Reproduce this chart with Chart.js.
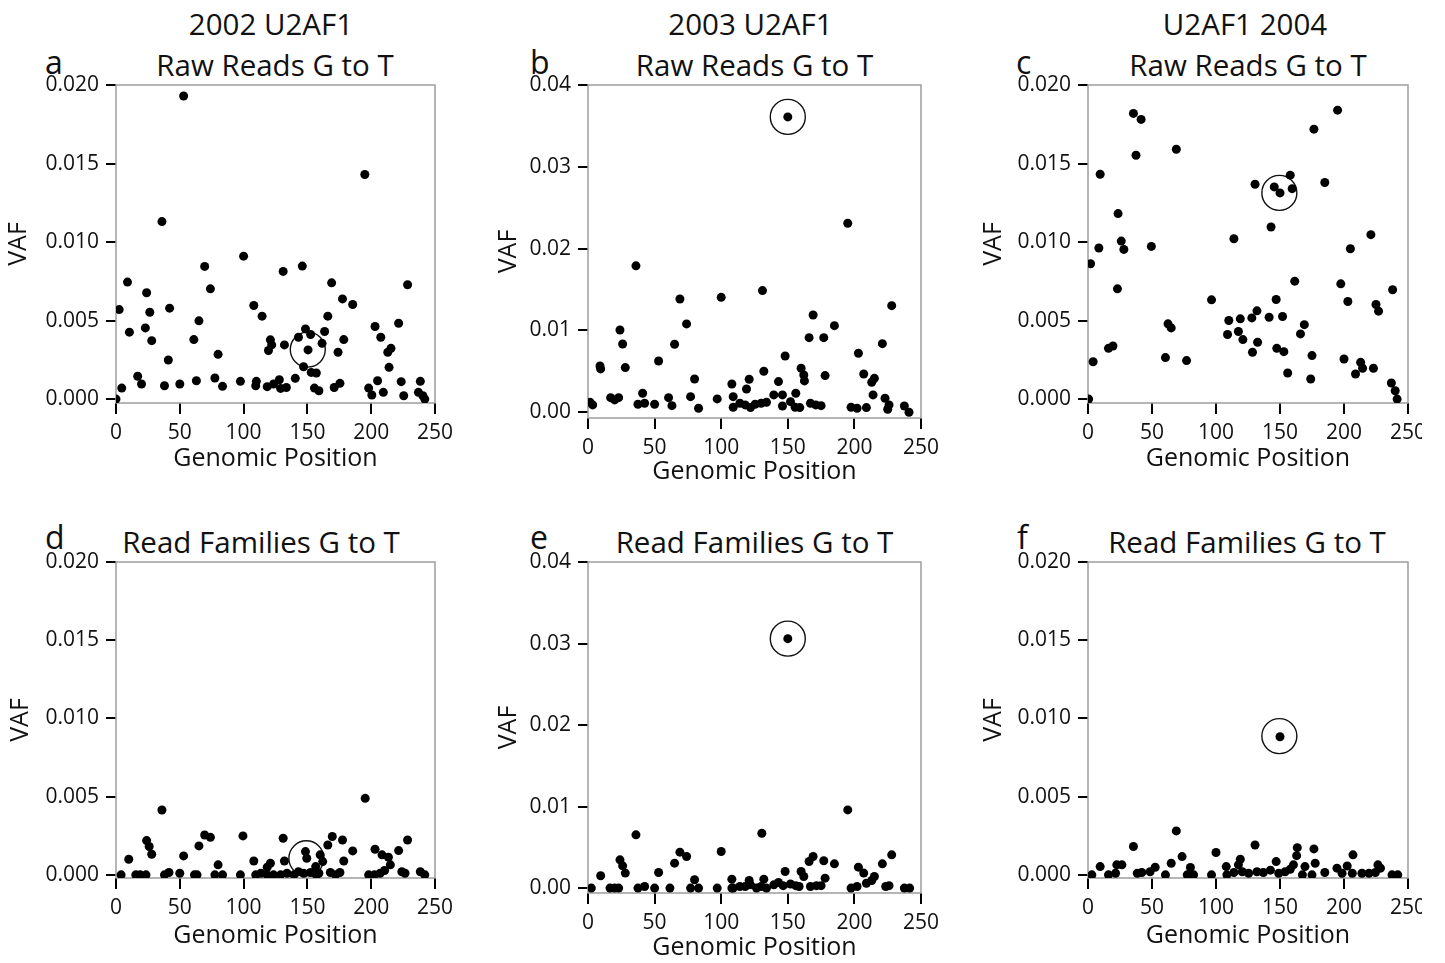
<!DOCTYPE html>
<html>
<head>
<meta charset="utf-8">
<script src="https://cdn.jsdelivr.net/npm/chart.js@4.4.1/dist/chart.umd.min.js"></script>
<style>
  body { margin: 0; background: #fff; width: 1445px; height: 963px; position: relative; overflow: hidden;
         font-family: 'Open Sans', sans-serif; color: #111; }
  canvas { position: absolute; }
  .t { position: absolute; text-align: center; font-size: 29.5px; line-height: 29px; white-space: nowrap; }
  .l { position: absolute; font-size: 32px; line-height: 32px; }
</style>
</head>
<body>
<div class="t" style="left:111px;width:320px;top:9px">2002 U2AF1</div>
<div class="t" style="left:115px;width:320px;top:50px">Raw Reads G to T</div>
<div class="t" style="left:584px;width:333px;top:9px">2003 U2AF1</div>
<div class="t" style="left:588px;width:333px;top:50px">Raw Reads G to T</div>
<div class="t" style="left:1085px;width:320px;top:9px">U2AF1 2004</div>
<div class="t" style="left:1088px;width:320px;top:50px">Raw Reads G to T</div>
<div class="t" style="left:101px;width:320px;top:527px">Read Families G to T</div>
<div class="t" style="left:588px;width:333px;top:527px">Read Families G to T</div>
<div class="t" style="left:1087px;width:320px;top:527px">Read Families G to T</div>
<div class="l" style="left:45px;top:46px">a</div>
<div class="l" style="left:530px;top:46px">b</div>
<div class="l" style="left:1016px;top:46px">c</div>
<div class="l" style="left:45px;top:521px">d</div>
<div class="l" style="left:530px;top:521px">e</div>
<div class="l" style="left:1017px;top:521px">f</div>
<script>
// tick values
const xTicks = [0, 50, 100, 150, 200, 250];
const yTicksSmall = [0, 0.005, 0.01, 0.015, 0.02];
const yTicksLarge = [0, 0.01, 0.02, 0.03, 0.04];

// [genomic position, VAF]
const rawA = [[53,0.0193],[195,0.0143],[36,0.0113],[100,0.0091],[69.5,0.00845],[146,0.00847],[131,0.00813],[9,0.00745],[169,0.0074],[228.5,0.00728],[24,0.00677],[74,0.00702],[177.5,0.00638],[185.5,0.00602],[2.5,0.0057],[26.5,0.00553],[42,0.00579],[108,0.00596],[114.5,0.00528],[166,0.00528],[65,0.00498],[10.5,0.00426],[23,0.00453],[28,0.00372],[61,0.00379],[203,0.00462],[221.5,0.00483],[207.5,0.00394],[148.5,0.00447],[152.5,0.00411],[143,0.00394],[163.5,0.0043],[121,0.00377],[122,0.00345],[132,0.00345],[161.5,0.00355],[178.5,0.00379],[119.5,0.00309],[150.5,0.00313],[174,0.00298],[215.5,0.00323],[213,0.00298],[80,0.00285],[41,0.00249],[214,0.00202],[147,0.00206],[153,0.0017],[157,0.00166],[17,0.00145],[20,0.00096],[4.5,0.0007],[38,0.00085],[50,0.00096],[63,0.00117],[77.5,0.00134],[83.5,0.00081],[97.5,0.00113],[110,0.00113],[109.5,0.00085],[118.5,0.00079],[123.5,0.00096],[128,0.00123],[129,0.00068],[133.5,0.00074],[140.5,0.00132],[155.5,0.0007],[159,0.00053],[171,0.00074],[175.5,0.001],[198,0.0007],[200.5,0.00026],[205,0.00117],[209.5,0.00043],[223.5,0.00111],[225.5,0.00021],[238.5,0.00113],[237,0.00043],[240.5,0.00021],[242,0],[0,0]];
const rawB = [[150,0.0361],[195,0.0231],[36,0.0179],[100,0.01405],[131,0.01487],[69,0.01385],[74,0.0108],[228,0.01303],[169,0.01189],[185,0.01059],[166,0.00912],[177,0.00912],[24,0.01006],[26,0.00835],[65,0.00831],[221,0.00839],[9,0.00566],[9.5,0.0053],[28,0.00546],[53,0.00627],[148,0.00688],[203,0.00721],[132,0.00501],[160,0.00538],[162,0.00456],[162.5,0.00383],[178,0.00448],[207,0.00468],[215,0.00415],[213,0.00367],[80,0.00407],[108,0.00346],[121,0.00403],[119,0.00285],[143,0.00375],[214,0.00212],[156,0.00232],[139.5,0.00212],[146,0.00212],[41,0.00232],[17,0.00179],[20,0.00151],[23,0.00179],[3.5,0.0009],[1.5,0.00122],[37.5,0.00098],[42.5,0.0011],[50,0.00098],[60.5,0.00179],[63,0.00081],[77,0.00191],[83,0.00049],[97,0.00163],[109,0.00191],[109,0.00061],[114,0.0011],[118,0.0009],[122,0.00057],[125.5,0.00098],[130,0.0011],[134,0.00122],[146,0.00077],[152,0.0013],[155.5,0.00061],[159,0.00057],[167,0.0011],[171,0.0009],[175,0.00081],[197.5,0.00061],[202,0.00049],[209,0.00057],[223,0.00171],[226,0.0009],[225,0.00037],[237.5,0.00077],[241,0]];
const rawC = [[35.5,0.01819],[41.5,0.01781],[195,0.0184],[176.5,0.01719],[37.5,0.01553],[69,0.01591],[9.5,0.01432],[158,0.01426],[130.5,0.01368],[145.5,0.01351],[150,0.01313],[159.5,0.0134],[185,0.01379],[23.5,0.01181],[143,0.01096],[221,0.01047],[114,0.01021],[26,0.01006],[28,0.00953],[8.5,0.00962],[49.5,0.00972],[205,0.00957],[2,0.00862],[23,0.00702],[161.5,0.00751],[197.5,0.00734],[238,0.00696],[203,0.00621],[225,0.00602],[227,0.0056],[96.5,0.00632],[147,0.00634],[132,0.00562],[128,0.00517],[141.5,0.00521],[152,0.00526],[110,0.005],[119,0.00511],[169,0.00474],[62.5,0.00479],[65,0.00453],[109,0.00411],[117.5,0.0043],[121,0.00379],[132.5,0.00362],[166,0.00415],[128.5,0.00298],[147.5,0.00323],[153,0.00302],[175,0.00277],[16,0.00323],[19.5,0.00338],[4,0.00238],[60.5,0.00264],[77,0.00245],[156,0.00166],[174,0.00128],[200,0.00255],[213,0.00234],[214.5,0.00196],[209,0.0016],[223,0.00196],[237,0.00102],[240,0.00053],[241.5,0],[0.5,0]];
const famD = [[195.3,0.00489],[36,0.00415],[69.5,0.00255],[74,0.0024],[99.5,0.00249],[131,0.00234],[169.5,0.00245],[177.5,0.00223],[228.5,0.00223],[24,0.00219],[26,0.00181],[28,0.00132],[65,0.00185],[166,0.00191],[185.5,0.00153],[221.5,0.00155],[203,0.00164],[10,0.001],[53,0.00121],[148.5,0.00149],[149.5,0.00106],[160,0.00128],[162,0.00085],[178.5,0.00089],[208.5,0.00128],[213.5,0.00113],[215,0.00064],[108,0.00089],[121,0.00074],[132,0.00089],[80,0.00064],[118.5,0.00049],[156.5,0.00053],[4,0],[15.5,0],[19,0],[23.5,0],[38,0],[41.5,0.00015],[50,0.0001],[61.5,0],[63.5,0],[77.5,0],[83.5,0],[97.5,0],[109.5,0],[113.5,0.0001],[118.5,0],[123.5,0],[129,0],[134,0.0001],[139.5,0],[143,0.0002],[147,0.0001],[152.5,0.00015],[157,0],[159,0.0001],[168,0.00015],[172,0],[175.5,0.00015],[198,0],[202.5,0],[207,0.0001],[210.5,0.00028],[224,0.0002],[226.5,0.0001],[238.5,0.0002],[242,0]];
const famE = [[150,0.0306],[195,0.00959],[36,0.00653],[130.5,0.00673],[100,0.00449],[69,0.00441],[74,0.00388],[228,0.00408],[169,0.00388],[166,0.00327],[177,0.00335],[185,0.00298],[221,0.00298],[24,0.00347],[26,0.00273],[28,0.00184],[65,0.00306],[9.5,0.00151],[53,0.00192],[148,0.00204],[203,0.00257],[160,0.00204],[162,0.00143],[207,0.00184],[215,0.00143],[213,0.00094],[178,0.00122],[80,0.00102],[108,0.0011],[121,0.00094],[132,0.0011],[143,0.00069],[2.5,0],[16.5,0],[20,0],[23,0],[37.5,0],[42.5,0.0002],[50,0],[61.5,0],[77,0],[83,0],[97,0],[109,0],[114,0.0002],[118,0.0002],[122,0.0004],[126.5,0],[130,0.0002],[134,0],[139.5,0.0004],[146.5,0.0003],[152,0.0005],[156,0.0003],[158.5,0.0002],[167,0.0002],[171.5,0.0003],[175,0.0003],[197.5,0],[202,0.0002],[209,0.0006],[223.5,0.0002],[226,0.0003],[237.5,0],[241.5,0],[108,0]];
const famF = [[150,0.00883],[69,0.00281],[35.5,0.00181],[130.5,0.00191],[163.5,0.00174],[176.5,0.00166],[100,0.00143],[207,0.00128],[73.5,0.00117],[163,0.00123],[119,0.001],[147,0.00085],[177.5,0.00074],[65,0.00074],[26.5,0.00064],[22.5,0.00064],[9.5,0.00053],[52.5,0.00049],[108,0.00053],[117.5,0.00064],[160.5,0.00064],[169.5,0.00053],[226.5,0.00064],[80,0.00047],[194.5,0.00043],[202.5,0.00057],[3,0],[16,0],[21.5,0.0001],[38.5,0.0001],[42,0.00015],[48.5,0.0002],[60.5,0],[77.5,0],[82.5,0],[96.5,0],[108.5,0],[114,0.00015],[120.5,0.0002],[125.5,0.0001],[132,0.0002],[137,0.00015],[142.5,0.0003],[149,0.0001],[154,0.0002],[158,0.00036],[167.5,0],[175,0],[185,0.00015],[198.5,0.0001],[206.5,0.0001],[214,0.0001],[219.5,0.0001],[224.5,0.00015],[228.5,0.00043],[237.5,0],[242,0]];

// circled site in each panel
const ringA = [[150.3, 0.00315]];
const ringB = [[150, 0.0361]];
const ringC = [[149.5, 0.01313]];
const ringD = [[149.2, 0.00106]];
const ringE = [[150, 0.0306]];
const ringF = [[149.5, 0.00887]];

// layout of each panel (page pixels of the plot frame)
const panels = [
  { pts: rawA, ring: ringA, yMin: -0.00025, yMax: 0.02, yTicks: yTicksSmall, dec: 3, L: 115.5, R: 434.5, T: 85, B: 403, vafX: 18.5, xTitleY: 459, padRight: 30 },
  { pts: rawB, ring: ringB, yMin: -0.0007, yMax: 0.04, yTicks: yTicksLarge, dec: 2, L: 588, R: 921, T: 85, B: 418, vafX: 509, xTitleY: 472, padRight: 30 },
  { pts: rawC, ring: ringC, yMin: -0.00025, yMax: 0.02, yTicks: yTicksSmall, dec: 3, L: 1088, R: 1408, T: 85, B: 403, vafX: 994, xTitleY: 459, padRight: 30, clipAt: 1422 },
  { pts: famD, ring: ringD, yMin: -0.0002, yMax: 0.02, yTicks: yTicksSmall, dec: 3, L: 115.5, R: 434.5, T: 562, B: 878, vafX: 20, xTitleY: 936, padRight: 30 },
  { pts: famE, ring: ringE, yMin: -0.0006, yMax: 0.04, yTicks: yTicksLarge, dec: 2, L: 588, R: 921, T: 562, B: 893, vafX: 509, xTitleY: 948, padRight: 30 },
  { pts: famF, ring: ringF, yMin: -0.0002, yMax: 0.02, yTicks: yTicksSmall, dec: 3, L: 1088, R: 1408, T: 562, B: 878, vafX: 994, xTitleY: 936, padRight: 30, clipAt: 1422 }
];

const FONT = "'Open Sans', sans-serif";
const Y_AXIS_W = 112, X_AXIS_H = 80, PAD_TOP = 24;

// grey box round the plot area
const framePlugin = {
  id: 'frame',
  beforeDatasetsDraw(chart) {
    const { ctx, chartArea: a } = chart;
    ctx.save();
    ctx.strokeStyle = '#9d9d9d';
    ctx.lineWidth = 1.5;
    ctx.strokeRect(a.left, a.top, a.right - a.left, a.bottom - a.top);
    ctx.restore();
  }
};

panels.forEach(p => {
  const cvLeft = p.L - Y_AXIS_W;
  const cvTop = p.T - PAD_TOP;
  const w = Math.round(p.R - cvLeft + p.padRight);
  const h = Math.round(p.B - p.T + PAD_TOP + X_AXIS_H);
  const cv = document.createElement('canvas');
  cv.width = w; cv.height = h;
  cv.style.left = cvLeft + 'px'; cv.style.top = cvTop + 'px';
  cv.style.width = w + 'px'; cv.style.height = h + 'px';
  if (p.clipAt) cv.style.clipPath = `inset(0 ${cvLeft + w - p.clipAt}px 0 0)`;
  document.body.appendChild(cv);

  new Chart(cv, {
    type: 'scatter',
    data: {
      datasets: [
        { data: p.pts.map(([x, y]) => ({ x, y })), pointRadius: 4.5, backgroundColor: '#000', borderWidth: 0 },
        { data: p.ring.map(([x, y]) => ({ x, y })), pointRadius: 17.5, backgroundColor: 'rgba(0,0,0,0)', borderColor: '#111', borderWidth: 1.4 }
      ]
    },
    options: {
      responsive: false,
      animation: false,
      events: [],
      devicePixelRatio: 1,
      layout: { autoPadding: false, padding: { left: 0, top: PAD_TOP, right: w - (p.R - cvLeft), bottom: 0 } },
      plugins: { legend: { display: false }, tooltip: { enabled: false } },
      scales: {
        x: {
          type: 'linear', min: 0, max: 250,
          afterFit: s => { s.height = X_AXIS_H; s.paddingLeft = 0; s.paddingRight = 0; },
          afterBuildTicks: s => { s.ticks = xTicks.map(v => ({ value: v })); },
          grid: { drawOnChartArea: false, color: '#000', lineWidth: 2, tickLength: 11 },
          border: { display: false },
          ticks: { autoSkip: false, maxRotation: 0, padding: 6, color: '#111', font: { family: FONT, size: 21 } },
          title: { display: true, text: 'Genomic Position', color: '#111', font: { family: FONT, size: 25 },
                   padding: { top: 0, bottom: p.B + X_AXIS_H - p.xTitleY - 15 } }
        },
        y: {
          type: 'linear', min: p.yMin, max: p.yMax,
          afterFit: s => { s.width = Y_AXIS_W; s.paddingTop = 0; s.paddingBottom = 0; },
          afterBuildTicks: s => { s.ticks = p.yTicks.map(v => ({ value: v })); },
          grid: { drawOnChartArea: false, color: '#000', lineWidth: 2, tickLength: 10 },
          border: { display: false },
          ticks: { autoSkip: false, padding: 7, color: '#111', font: { family: FONT, size: 21 },
                   callback: v => Number(v).toFixed(p.dec) },
          title: { display: true, text: 'VAF', color: '#111', font: { family: FONT, size: 25 },
                   padding: { top: p.vafX - cvLeft - 15, bottom: 0 } }
        }
      }
    },
    plugins: [framePlugin]
  });
});
</script>
</body>
</html>
